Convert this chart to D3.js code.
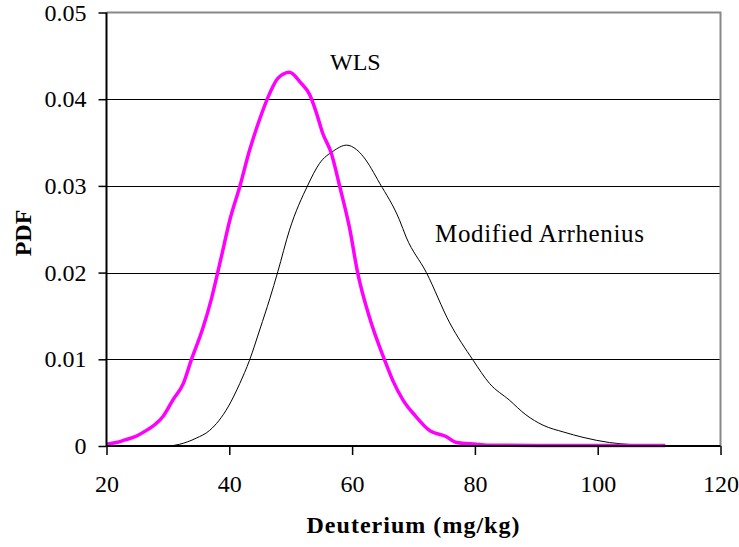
<!DOCTYPE html>
<html><head><meta charset="utf-8">
<script src="https://cdn.jsdelivr.net/npm/d3@7/dist/d3.min.js"></script>
</head><body style="margin:0">
<svg id="c" width="739" height="547" font-family="Liberation Serif"></svg>
<script>
const xTicks = [20, 40, 60, 80, 100, 120];
const yTicks = [0, 0.01, 0.02, 0.03, 0.04, 0.05];
const yTickLabels = ["0", "0.01", "0.02", "0.03", "0.04", "0.05"];

const wlsX = [20, 21.6, 23, 24.9, 26.5, 28.1, 29.2, 30.8, 32.5, 33.8, 35.7, 37.1, 38.6, 40.1, 41.7, 43.3, 44.9, 46.6, 47.9, 49.8, 51.5, 53.1, 54.2, 55.2, 56.6, 58.0, 59.6, 60.9, 62.8, 65.3, 66.6, 68.3, 70.4, 72.6, 75.3, 77.0, 80.2, 82, 90, 100, 111];
const wlsY = [0.0002, 0.0004, 0.0007, 0.00115, 0.0018, 0.0026, 0.0034, 0.0053, 0.0072, 0.0099, 0.0136, 0.0170, 0.0215, 0.0261, 0.0299, 0.0341, 0.0376, 0.0407, 0.0424, 0.0431, 0.0420, 0.0405, 0.0384, 0.0361, 0.0338, 0.0299, 0.0251, 0.0200, 0.0149, 0.0099, 0.0076, 0.0053, 0.0034, 0.0018, 0.0011, 0.0004, 0.0002, 0.0001, 0.00005, 0.00005, 0.00005];

const arrX = [30.3, 31.9, 34.6, 36.8, 39.8, 41.7, 43.3, 45.0, 46.6, 47.9, 49.8, 52.8, 54.7, 56.9, 59.1, 60.7, 61.8, 64.5, 67.7, 68.8, 72.1, 75.9, 79.7, 82.4, 85.6, 88.3, 91.1, 94.5, 97.6, 101.9, 105.7, 110];
const arrY = [0, 0.0002, 0.0009, 0.0018, 0.0045, 0.0072, 0.0099, 0.0135, 0.0170, 0.0201, 0.0249, 0.0301, 0.0326, 0.0340, 0.0347, 0.0342, 0.0334, 0.0303, 0.0261, 0.0241, 0.0200, 0.0142, 0.0099, 0.0072, 0.0053, 0.0036, 0.0024, 0.0016, 0.0010, 0.0004, 0.00015, 0.00005];

const svg = d3.select("#c");
const L = 106.5, R = 720.5, T = 12.5, B = 446;
const x = d3.scaleLinear().domain([20, 120]).range([L, R]);
const y = d3.scaleLinear().domain([0, 0.05]).range([B, T]);

// gridlines
svg.append("g").selectAll("line").data(yTicks.slice(1, 5)).join("line")
  .attr("x1", L).attr("x2", R).attr("y1", d => Math.round(y(d)) + 0.5).attr("y2", d => Math.round(y(d)) + 0.5)
  .attr("stroke", "#000").attr("stroke-width", 1);
// top and right border (gray)
svg.append("path").attr("d", `M${L},${T}H${R}V${B}`).attr("fill", "none").attr("stroke", "#888").attr("stroke-width", 2);

// curves
const line = d3.line().x(d => x(d[0])).y(d => y(d[1])).curve(d3.curveMonotoneX);
svg.append("path").datum(arrX.map((v, i) => [v, arrY[i]])).attr("d", line)
  .attr("fill", "none").attr("stroke", "#000").attr("stroke-width", 1);
svg.append("path").datum(wlsX.map((v, i) => [v, wlsY[i]])).attr("d", line)
  .attr("fill", "none").attr("stroke", "#ff00ff").attr("stroke-width", 3.5).attr("stroke-linejoin", "round");

// axes
const xAxis = d3.axisBottom(x).tickValues(xTicks).tickSize(9).tickFormat(d3.format("d"));
const gx = svg.append("g").attr("transform", `translate(0,${B})`).call(xAxis);
const yAxis = d3.axisLeft(y).tickValues(yTicks).tickSize(8).tickPadding(12).tickFormat((d, i) => yTickLabels[i]);
const gy = svg.append("g").attr("transform", `translate(${L},0)`).call(yAxis);
[gx, gy].forEach(g => {
  g.attr("font-family", "Liberation Serif").attr("font-size", 24);
  g.select(".domain").attr("stroke", "#000").attr("stroke-width", 2);
  g.selectAll(".tick line").attr("stroke", "#000").attr("stroke-width", 1.5);
  g.selectAll("text").style("font-family", '"Liberation Serif"').attr("fill", "#000");
});
gx.selectAll(".tick text").attr("y", 46).attr("dy", 0);
gx.select(".domain").attr("d", `M${L},0H${R}`);
gy.select(".domain").attr("d", `M0,${B}V${T}`);

// titles
svg.append("text").attr("x", 413).attr("y", 533).attr("text-anchor", "middle")
  .style("font-family", '"Liberation Serif"').attr("font-weight", "bold").attr("font-size", 24)
  .attr("textLength", 213).attr("lengthAdjust", "spacing").text("Deuterium (mg/kg)");
svg.append("text").attr("transform", "translate(31,233) rotate(-90)").attr("text-anchor", "middle")
  .style("font-family", '"Liberation Serif"').attr("font-weight", "bold").attr("font-size", 24).text("PDF");

// annotations
svg.append("text").attr("x", 330).attr("y", 70).style("font-family", '"Liberation Serif"').attr("font-size", 24).text("WLS");
svg.append("text").attr("x", 435).attr("y", 242).style("font-family", '"Liberation Serif"').attr("font-size", 25)
  .attr("textLength", 209).attr("lengthAdjust", "spacing").text("Modified Arrhenius");
</script>
</body></html>
